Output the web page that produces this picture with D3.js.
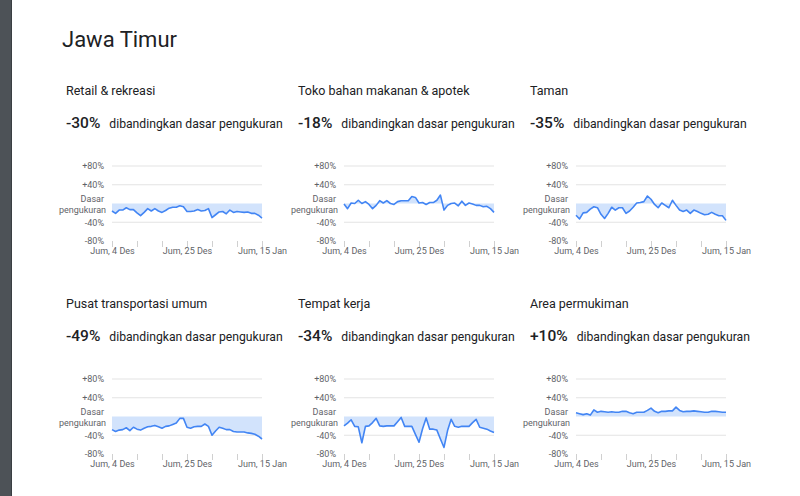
<!DOCTYPE html>
<html><head><meta charset="utf-8">
<script src="https://cdn.jsdelivr.net/npm/d3@7"></script>
<style>
html,body{margin:0;padding:0;background:#fff;}
svg{display:block;font-family:Roboto, "Open Sans", sans-serif;}
</style></head>
<body>
<svg id="c" width="800" height="496"></svg>
<script>
// ---- data ----
const regionTitle = "Jawa Timur";
const categories = ["Retail & rekreasi","Toko bahan makanan & apotek","Taman","Pusat transportasi umum","Tempat kerja","Area permukiman"];
const headlineValues = ["-30%","-18%","-35%","-49%","-34%","+10%"];
const compareText = "dibandingkan dasar pengukuran";
const startDate = new Date(2020, 11, 4);
const endDate = new Date(2021, 0, 15);
const yTicks = [80, 40, 0, -40, -80];
const yTickLabels = ["+80%", "+40%", "Dasar pengukuran", "-40%", "-80%"];
const xTickLabels = ["Jum, 4 Des", "", "", "Jum, 25 Des", "", "", "Jum, 15 Jan"];

const retail = [-16,-21,-14,-14,-9,-13,-13,-20,-26,-19,-11,-16,-11,-16,-19,-15,-10,-8,-8,-5,-7,-17,-17,-16,-13,-16,-15,-11,-30,-24,-18,-17,-22,-14,-19,-17,-18,-19,-18,-21,-21,-25,-31];
const grocery = [-1,-11,1,0,7,0,4,-2,-11,-4,6,1,6,0,-2,4,6,6,6,15,13,1,2,-2,2,2,7,18,-14,-4,0,1,-5,5,-4,1,-1,-4,-4,-7,-6,-11,-19];
const parks = [-25,-33,-20,-19,-12,-7,-9,-23,-32,-21,-8,-14,-9,-9,-21,-16,-8,1,2,4,16,9,-2,-9,1,-4,-9,7,-4,-14,-17,-14,-21,-14,-17,-21,-24,-23,-19,-23,-26,-26,-36];
const transit = [-28,-32,-29,-28,-24,-30,-23,-27,-29,-25,-22,-21,-19,-22,-25,-21,-20,-17,-14,-4,-4,-23,-25,-22,-21,-21,-16,-21,-40,-31,-23,-25,-28,-28,-32,-33,-33,-33,-35,-36,-38,-42,-48];
const workplace = [-20,-14,-7,-21,-22,-56,-21,-20,-13,-4,-20,-21,-20,-20,-20,-11,-2,-21,-21,-21,-38,-55,-26,-3,-27,-27,-29,-48,-66,-30,-6,-21,-23,-21,-21,-21,-13,-6,-23,-25,-27,-31,-34];
const residential = [8,6,4,6,3,14,9,11,10,9,10,9,9,11,11,8,6,9,9,9,13,18,11,8,11,11,12,12,20,13,10,11,11,12,11,10,9,9,11,11,10,9,9];
const seriesList = [retail, grocery, parks, transit, workplace, residential];

// ---- drawing ----
const svg = d3.select("#c");
svg.append("rect").attr("x",0).attr("y",0).attr("width",11).attr("height",496).attr("fill","#4d5257");
svg.append("rect").attr("x",11).attr("y",0).attr("width",1).attr("height",496).attr("fill","#3a3e42");

svg.append("text").attr("x",62).attr("y",47).attr("font-size",22).attr("fill","#202124").text(regionTitle);

const dates = d3.timeDay.range(startDate, d3.timeDay.offset(endDate,1));
const xTickDates = d3.timeDay.range(startDate, d3.timeDay.offset(endDate,1), 7);
const colX = [66, 298, 530];
const rowY = [0, 213];

categories.forEach((cat, i) => {
  const px = colX[i % 3], oy = rowY[Math.floor(i / 3)];
  const g = svg.append("g");
  g.append("text").attr("x",px).attr("y",95+oy).attr("font-size",12.5).attr("fill","#202124").text(cat);
  const t = g.append("text").attr("x",px).attr("y",128+oy).attr("fill","#202124");
  t.append("tspan").attr("font-size",15.5).attr("font-weight",500).text(headlineValues[i]);
  t.append("tspan").attr("dx",9).attr("font-size",12.2).text(compareText);

  const x = d3.scaleTime().domain([startDate, endDate]).range([px+46, px+196]);
  const y = d3.scaleLinear().domain([-80, 80]).range([241+oy, 166+oy]);

  // gridlines
  g.selectAll("line.grid").data(yTicks.filter(v => v !== 0 && v !== -80)).enter().append("line")
    .attr("x1", px+46).attr("x2", px+196).attr("y1", d => y(d)).attr("y2", d => y(d))
    .attr("stroke","#e3e3e3").attr("stroke-width",1);

  const data = seriesList[i].map((v, k) => ({d: dates[k], v}));
  g.append("path").datum(data)
    .attr("d", d3.area().x(p => x(p.d)).y0(y(0)).y1(p => y(p.v)))
    .attr("fill","#d2e3fc");
  g.append("path").datum(data)
    .attr("d", d3.line().x(p => x(p.d)).y(p => y(p.v)))
    .attr("fill","none").attr("stroke","#4285f4").attr("stroke-width",1.6).attr("stroke-linejoin","round");

  // y axis
  const ya = g.append("g").attr("transform", `translate(${px+38},0)`)
    .call(d3.axisLeft(y).tickValues(yTicks).tickSize(0).tickPadding(0)
      .tickFormat((d, k) => yTickLabels[k]));
  ya.select(".domain").remove();
  ya.selectAll("text").attr("font-size",9).attr("fill","#5f6368").attr("font-family","Roboto, sans-serif");
  ya.selectAll(".tick").filter(d => d === 0).select("text").each(function() {
    const el = d3.select(this);
    const parts = yTickLabels[yTicks.indexOf(0)].split(" ");
    el.text(null).attr("dy", null);
    el.append("tspan").attr("x", 0).attr("y", -5).attr("dy","0.32em").text(parts[0]);
    el.append("tspan").attr("x", 2).attr("y", 6).attr("dy","0.32em").text(parts[1]);
  });

  // x axis
  const xa = g.append("g").attr("transform", `translate(0,${241+oy})`)
    .call(d3.axisBottom(x).tickValues(xTickDates).tickSize(6).tickPadding(1)
      .tickFormat((d, k) => xTickLabels[k]));
  xa.select(".domain").remove();
  xa.selectAll("line").attr("stroke","#d0d0d0");
  xa.selectAll("text").attr("font-size",9).attr("fill","#5f6368").attr("font-family","Roboto, sans-serif");
});
</script>
</body></html>
